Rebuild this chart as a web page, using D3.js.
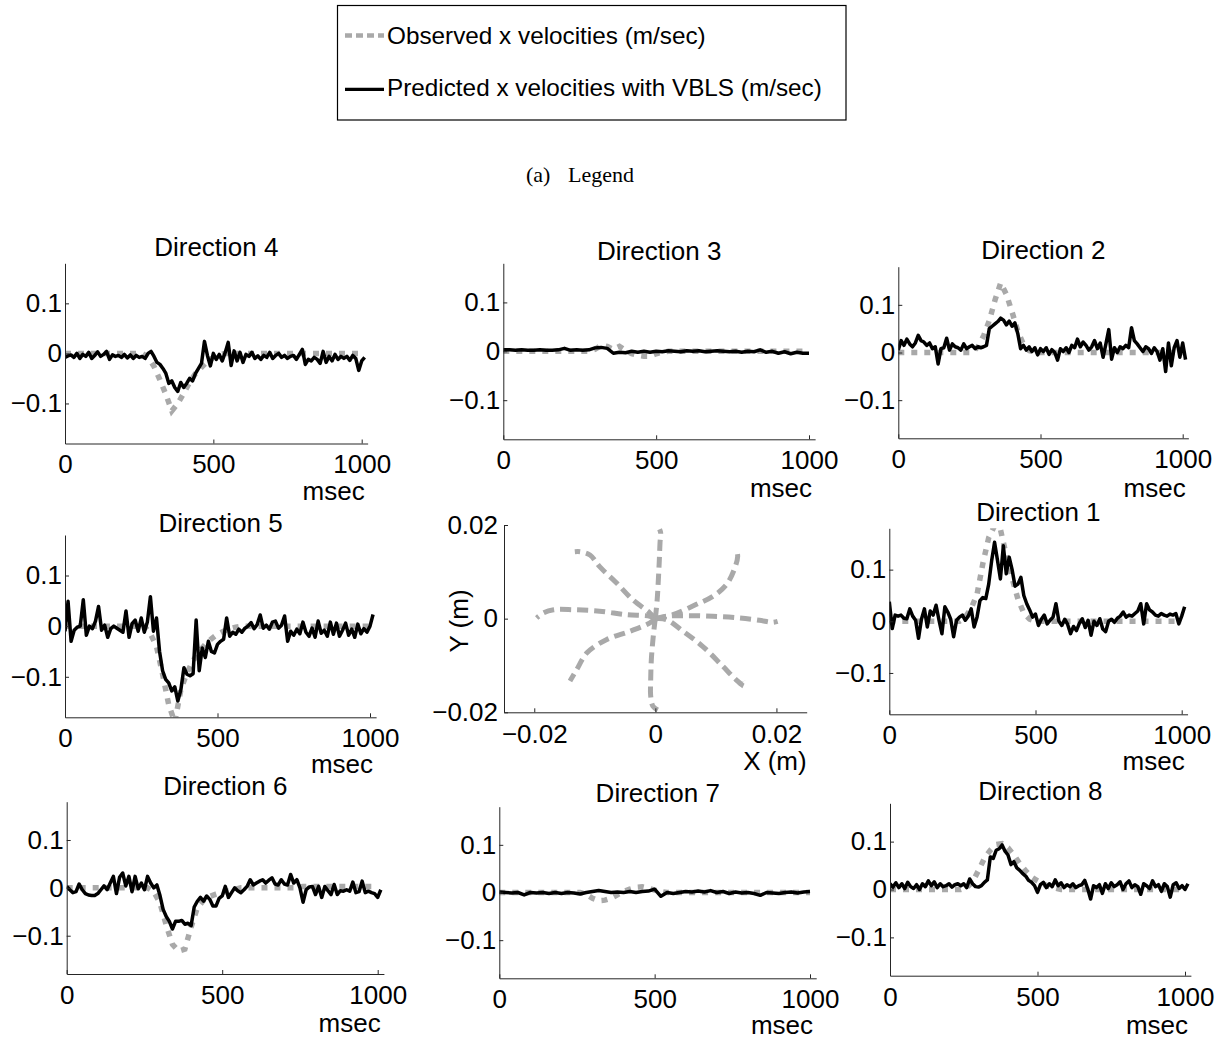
<!DOCTYPE html>
<html><head><meta charset="utf-8">
<script src="https://cdn.jsdelivr.net/npm/d3@7"></script>
<style>
body{margin:0;background:#fff}
svg text{font-family:"Liberation Sans",Arial,Helvetica,sans-serif;fill:#000}
</style>
</head><body>
<svg id="chart" width="1223" height="1041"></svg>
<script>
// ---------------- DATA ----------------
const legendLabels = ["Observed x velocities (m/sec)", "Predicted x velocities with VBLS (m/sec)"];
const captionParts = ["(a)", "Legend"];
const timeTicks = [0, 500, 1000];
const velocityTicks = [-0.1, 0, 0.1];
const positionXTicks = [-0.02, 0, 0.02];
const positionYTicks = [-0.02, 0, 0.02];
const timeLabel = "msec";
const positionXLabel = "X (m)";
const positionYLabel = "Y (m)";

// sample times (ms)
const timeObserved = d3.range(0, 1001, 20);   // 51 samples
const timeFine = d3.range(0, 1011, 10);       // 102 samples
const timeCoarse = d3.range(0, 1001, 20);     // 51 samples

// observed x velocities (m/sec), sampled every 20 ms
const observedDir1 = [0,0,0,0,0,0,0,0,0,0,0,0,0, 0.008,0.025,0.052,0.112,0.162,0.185,0.178,0.128,0.083,0.043,0.016,0.004, 0,0,0,0,0,0,0,0,0,0,0,0,0,0,0,0,0,0,0,0,0,0,0,0,0,0];
const observedDir2 = [0,0,0,0,0,0,0,0,0,0,0,0,0,0, 0.012,0.035,0.067,0.110,0.146,0.122,0.085,0.045,0.017,0.004,0, 0,0,0,0,0,0,0,0,0,0,0,0,0,0,0,0,0,0,0,0,0,0,0,0,0,0];
const observedDir3 = [0,0,0,0,0,0,0,0,0,0,0,0,0,0,0, 0.004,0.012,0.010,0.004,0.010,0.002,-0.005,-0.008,-0.010,-0.010,-0.005,-0.002, 0,0,0,0,0,0,0,0,0,0,0,0,0,0,0,0,0,0,0,0,0,0,0,0];
const observedDir4 = [0,0,0,0,0,0,0,0,0,0,0,0,0,0, -0.008,-0.026,-0.053,-0.082,-0.115,-0.100,-0.080,-0.058,-0.040,-0.028,-0.016,-0.008,-0.003, 0,0,0,0,0,0,0,0,0,0,0,0,0,0,0,0,0,0,0,0,0,0,0,0];
const observedDir5 = [0,0,0,0,0,0,0,0,0,0,0,0,0,0, -0.015,-0.040,-0.095,-0.155,-0.190,-0.125,-0.092,-0.068,-0.050,-0.036,-0.025,-0.016,-0.010,-0.005,-0.002, 0,0,0,0,0,0,0,0,0,0,0,0,0,0,0,0,0,0,0,0,0,0];
const observedDir6 = [0,0,0,0,0,0,0,0,0,0,0,0,0,0, -0.008,-0.032,-0.078,-0.118,-0.132,-0.128,-0.082,-0.042,-0.026,-0.018,-0.013,-0.009,-0.006,-0.003, 0,0,0,0,0,0,0,0,0,0, 0.003,0.003,0.003,0.003,0.003,0.003,0.003,0.003,0.003,0.003,0.003,0.003,0.003];
const observedDir7 = [0,0,0,0,0,0,0,0,0,0,0,0,0,0, -0.004,-0.012,-0.017,-0.016,-0.012,-0.005,0.002,0.007,0.011,0.012,0.009,0.005,0.002, 0,0,0,0,0,0,0,0,0,0,0,0,0,0,0,0,0,0,0,0,0,0,0,0];
const observedDir8 = [0,0,0,0,0,0,0,0,0,0,0,0,0, 0.004,0.016,0.040,0.065,0.082,0.094,0.096,0.087,0.072,0.054,0.039,0.026,0.018,0.011,0.006,0.003, 0,0,0,0,0,0,0,0,0,0,0,0,0,0,0,0,0,0,0,0,0,0];

// predicted x velocities with VBLS (m/sec), every 10 ms (dirs 1,2,4,5,6,8) or 20 ms (dirs 3,7)
const predictedDir1 = [
 0.038,-0.014,0.012,0.010,0.012,0.006,0.005,0.024,0.010,0.002,
 -0.033,0.004,0.024,-0.011,0.020,0.012,0.031,0.002,-0.024,0.028,
 0.018,0.004,-0.030,0.002,0.008,0.012,0.002,0.010,0.024,-0.011,
 0.008,0.040,0.046,0.044,0.072,0.117,0.153,0.118,0.082,0.146,
 0.092,0.124,0.100,0.068,0.072,0.085,0.050,0.034,0.022,0.008,
 0.014,-0.008,0.004,0.012,-0.005,0.002,0.008,0.034,0.000,-0.008,
 0.004,-0.006,-0.024,-0.010,-0.018,-0.004,0.005,-0.012,0.002,-0.027,
 0.000,-0.008,0.005,-0.015,-0.020,0.000,0.004,-0.002,0.006,0.010,
 0.018,0.008,0.012,0.010,0.015,0.020,0.034,-0.005,0.034,0.022,
 0.018,0.012,0.010,0.015,0.012,0.010,0.014,0.012,0.015,-0.005,
 0.010,0.028];
const predictedDir2 = [
 0.005,0.025,0.015,0.028,0.018,0.012,0.020,0.036,0.025,0.022,
 0.015,0.020,0.008,0.012,-0.024,0.008,0.010,0.030,0.005,0.018,
 0.012,0.010,0.005,0.018,0.008,0.012,0.015,0.008,0.012,0.010,
 0.012,0.015,0.050,0.055,0.060,0.065,0.072,0.068,0.058,0.066,
 0.055,0.062,0.040,0.008,0.015,0.005,0.012,0.002,0.010,-0.005,
 0.008,0.002,0.010,-0.004,0.006,0.000,-0.016,0.008,0.002,0.010,
 0.000,0.015,0.010,0.028,0.012,0.022,0.015,0.005,0.012,0.025,
 0.008,0.020,-0.010,0.018,0.048,-0.014,0.010,0.000,0.012,0.008,
 0.015,0.010,0.052,0.025,0.018,0.010,0.002,0.012,0.008,-0.002,
 0.010,0.002,-0.016,0.008,-0.040,0.020,-0.028,0.010,0.025,-0.010,
 0.020,-0.015];
const predictedDir3 = [
 0.003,0.003,0.002,0.003,0.002,0.002,0.003,0.002,0.002,0.003,
 0.006,0.002,0.003,0.002,0.003,0.007,0.008,0.006,-0.004,-0.002,
 -0.003,0.000,-0.002,0.000,-0.002,0.000,-0.001,0.001,0.000,-0.001,
 0.001,0.000,0.001,-0.001,0.000,0.001,0.000,-0.001,0.000,-0.002,
 0.000,-0.001,0.003,-0.002,0.000,-0.004,-0.001,-0.005,-0.002,-0.004,
 -0.004];
const predictedDir4 = [
 -0.008,-0.005,-0.003,-0.008,0.000,-0.010,-0.002,-0.006,0.002,-0.010,
 -0.004,0.003,-0.006,-0.002,0.004,-0.012,-0.003,-0.006,-0.004,-0.008,
 -0.002,-0.009,-0.003,-0.010,-0.004,-0.008,-0.006,-0.010,0.000,0.004,
 -0.006,-0.018,-0.022,-0.030,-0.040,-0.060,-0.055,-0.068,-0.076,-0.058,
 -0.068,-0.060,-0.050,-0.055,-0.040,-0.030,-0.020,0.024,-0.004,-0.025,
 0.000,-0.012,-0.002,-0.015,0.002,0.022,-0.024,0.005,-0.015,0.002,
 -0.018,-0.002,-0.006,0.002,-0.010,-0.005,-0.012,-0.004,-0.008,0.002,
 -0.010,-0.004,0.000,-0.008,-0.004,-0.010,-0.006,-0.004,-0.012,-0.002,
 0.008,-0.022,-0.012,-0.015,-0.008,-0.012,-0.020,0.004,-0.018,-0.006,
 -0.015,-0.002,-0.012,-0.006,-0.010,-0.006,-0.014,-0.004,-0.010,-0.034,
 -0.015,-0.008];
const predictedDir5 = [
 -0.010,0.049,-0.030,-0.008,-0.002,0.000,0.052,-0.018,0.000,-0.005,
 0.010,0.039,-0.008,0.002,-0.022,-0.005,0.000,-0.004,-0.008,-0.012,
 0.030,-0.022,0.005,0.012,-0.010,0.016,-0.012,0.008,0.058,-0.010,
 0.016,-0.050,-0.088,-0.105,-0.112,-0.128,-0.120,-0.148,-0.125,-0.082,
 -0.095,-0.098,-0.094,0.012,-0.088,-0.043,-0.062,-0.030,-0.050,-0.053,
 -0.036,-0.030,-0.026,0.016,-0.020,-0.012,-0.016,-0.006,-0.012,-0.004,
 0.000,0.007,-0.005,0.003,0.022,-0.004,0.002,-0.006,0.008,0.010,
 -0.004,0.002,0.020,-0.030,-0.010,-0.018,-0.006,-0.015,0.008,-0.012,
 -0.020,-0.004,-0.022,0.010,-0.014,-0.008,-0.020,0.008,-0.016,0.006,
 -0.020,-0.008,0.006,-0.018,-0.006,-0.022,0.004,-0.015,-0.005,-0.012,
 0.000,0.023];
const predictedDir6 = [
 0.003,-0.004,-0.010,-0.008,0.008,-0.004,-0.012,-0.015,-0.016,-0.016,
 -0.012,-0.004,0.004,-0.004,0.010,0.024,-0.012,0.022,0.031,0.004,
 0.024,-0.008,0.024,-0.002,0.010,-0.004,0.024,0.010,0.000,0.006,
 -0.016,-0.045,-0.060,-0.070,-0.086,-0.070,-0.070,-0.068,-0.076,-0.074,
 -0.079,-0.040,-0.028,-0.020,-0.028,-0.017,-0.024,-0.038,-0.038,-0.022,
 -0.017,0.003,-0.020,-0.010,0.000,-0.006,-0.010,-0.004,0.003,0.017,
 0.006,0.010,0.014,0.017,0.010,0.016,0.021,0.008,0.006,0.017,
 0.008,0.006,0.028,0.010,0.017,0.000,-0.030,-0.004,0.002,0.003,
 -0.014,0.003,-0.020,0.003,-0.006,-0.014,0.007,-0.014,-0.006,-0.007,
 -0.004,-0.007,0.012,-0.010,-0.008,0.014,-0.010,-0.007,-0.010,-0.012,
 -0.020,-0.004];
const predictedDir7 = [
 0.001,0.000,-0.001,0.000,-0.005,0.000,-0.001,0.000,-0.002,0.000,
 -0.002,0.000,-0.001,-0.003,0.000,0.002,0.004,0.002,0.000,0.001,
 0.000,0.002,0.000,0.002,0.003,0.007,-0.008,0.000,-0.002,0.000,
 0.002,0.001,0.003,0.001,0.004,0.000,0.002,-0.002,0.001,-0.001,
 0.000,-0.002,-0.006,0.000,-0.001,-0.002,0.000,0.001,-0.001,0.001,
 0.002];
const predictedDir8 = [
 0.012,0.005,0.014,0.004,0.012,0.002,0.015,0.006,0.002,0.010,
 0.000,0.012,0.006,0.018,0.008,0.016,0.004,0.012,0.006,0.008,
 0.012,0.005,0.010,0.012,0.008,0.012,0.004,0.022,0.012,0.006,
 0.005,0.008,0.015,0.020,0.068,0.065,0.082,0.085,0.093,0.080,
 0.072,0.052,0.058,0.045,0.040,0.033,0.028,0.019,0.015,0.008,
 -0.006,0.010,0.015,0.004,0.012,0.006,0.020,0.008,0.014,0.004,
 0.010,0.006,0.012,0.004,0.008,0.010,0.019,0.002,-0.020,0.008,
 0.004,0.010,-0.008,0.012,0.002,0.014,0.006,0.010,0.016,0.000,
 0.012,0.018,0.004,0.010,0.006,-0.010,0.012,0.008,0.002,0.018,
 0.006,0.010,-0.004,0.012,0.006,-0.016,0.010,0.014,0.002,0.008,
 0.000,0.012];

// observed hand trajectories [X (m), Y (m)]
const trajectoryDir1 = [[0,0],[0.0018,0.0005],[0.0051,0.00064],[0.0095,0.0005],[0.0139,0.00014],[0.0172,-0.00035],[0.0193,-0.00078],[0.0202,-0.00057]];
const trajectoryDir2 = [[0,0],[0.0029,0.00085],[0.0067,0.0030],[0.0095,0.00475],[0.0117,0.0072],[0.0130,0.0104],[0.0136,0.0133],[0.0134,0.0147]];
const trajectoryDir3 = [[0,0],[0.0003,0.0040],[0.0005,0.0084],[0.00066,0.0126],[0.00077,0.0162],[0.00088,0.0183],[0.0007,0.0191]];
const trajectoryDir4 = [[0,0],[-0.0009,0.0012],[-0.0037,0.0040],[-0.0064,0.0076],[-0.0092,0.0111],[-0.0108,0.0136],[-0.0124,0.0143],[-0.0133,0.0143]];
const trajectoryDir5 = [[0,0],[-0.0009,0.0005],[-0.0048,0.00085],[-0.0092,0.0016],[-0.0135,0.0019],[-0.0168,0.0019],[-0.0185,0.0012],[-0.0196,0.00014]];
const trajectoryDir6 = [[0,0],[-0.0009,-0.0009],[-0.0042,-0.0027],[-0.0081,-0.0045],[-0.0113,-0.0073],[-0.0130,-0.0109],[-0.0141,-0.0133]];
const trajectoryDir7 = [[0,0],[-0.0001,-0.0009],[-0.0004,-0.0045],[-0.00066,-0.0087],[-0.00077,-0.0130],[-0.00077,-0.0165],[-0.0004,-0.0187],[0.0004,-0.0195]];
const trajectoryDir8 = [[0,0],[0.0018,-0.0002],[0.0046,-0.0027],[0.0078,-0.0059],[0.0111,-0.0101],[0.0133,-0.0130],[0.0147,-0.0144],[0.0147,-0.0133]];

// ---------------- LAYOUT / STYLE ----------------
const FONT = '"Liberation Sans", Arial, Helvetica, sans-serif';
const GRAY = "#a9a9a9";
const AXIS = "#262626";
const timeDomain = [0, 1020];
const velocityDomain = [-0.18, 0.18];

const observedByDir = {1:observedDir1,2:observedDir2,3:observedDir3,4:observedDir4,5:observedDir5,6:observedDir6,7:observedDir7,8:observedDir8};
const predictedByDir = {1:predictedDir1,2:predictedDir2,3:predictedDir3,4:predictedDir4,5:predictedDir5,6:predictedDir6,7:predictedDir7,8:predictedDir8};
const predictedTimeByDir = {1:timeFine,2:timeFine,3:timeCoarse,4:timeFine,5:timeFine,6:timeFine,7:timeCoarse,8:timeFine};
const trajectories = [trajectoryDir1,trajectoryDir2,trajectoryDir3,trajectoryDir4,trajectoryDir5,trajectoryDir6,trajectoryDir7,trajectoryDir8];

const panelLayout = [
  {dir:4, left:65,    x1000:361.7,  top:263.3, bottom:443.5, titleDy:7, msecDy:56},
  {dir:3, left:503.3, x1000:809,    top:263.3, bottom:439.3, titleDy:3, msecDy:58},
  {dir:2, left:898.3, x1000:1182.7, top:266.7, bottom:438.3, titleDy:8, msecDy:59},
  {dir:5, left:65,    x1000:370,    top:535,   bottom:717.3, titleDy:3, msecDy:56},
  {dir:1, left:889.3, x1000:1181.7, top:528.3, bottom:714.3, titleDy:7, msecDy:56},
  {dir:6, left:66.7,  x1000:377.7,  top:801.7, bottom:974,   titleDy:7, msecDy:58},
  {dir:7, left:499.3, x1000:810,    top:806.7, bottom:978.3, titleDy:5, msecDy:56},
  {dir:8, left:890,   x1000:1185,   top:803.3, bottom:975.7, titleDy:3, msecDy:58}
];

const fmt = d => d === 0 ? "0" : (d < 0 ? "\u2212" : "") + Math.abs(d);

const svg = d3.select("#chart");
const defs = svg.append("defs");

function styleAxis(sel) {
  sel.attr("font-size", 26).attr("font-family", FONT);
  sel.selectAll(".domain").attr("stroke", AXIS).attr("stroke-width", 1);
  sel.selectAll(".tick line").attr("stroke", AXIS).attr("stroke-width", 1);
  sel.selectAll(".tick text").attr("fill", "#000");
}

// ---------------- LEGEND ----------------
const legend = svg.append("g");
legend.append("rect").attr("x", 337.5).attr("y", 5.5).attr("width", 508.5).attr("height", 114.5)
  .attr("fill", "#fff").attr("stroke", "#000").attr("stroke-width", 1.2);
const legendRows = [
  {label: legendLabels[0], cy: 35.5, base: 43.5, stroke: GRAY, width: 4.5, dash: "7,4"},
  {label: legendLabels[1], cy: 89.3, base: 95.7, stroke: "#000", width: 3.2, dash: null}
];
legendRows.forEach(r => {
  legend.append("line").attr("x1", 345).attr("x2", 384).attr("y1", r.cy).attr("y2", r.cy)
    .attr("stroke", r.stroke).attr("stroke-width", r.width).attr("stroke-dasharray", r.dash);
  legend.append("text").attr("x", 387).attr("y", r.base).attr("font-size", 24.3).text(r.label);
});
const SERIF = '"Liberation Serif", "Times New Roman", serif';
svg.append("text").attr("x", 526).attr("y", 181.5).attr("font-size", 22)
  .style("font-family", SERIF).text(captionParts[0]);
svg.append("text").attr("x", 568).attr("y", 181.5).attr("font-size", 22)
  .style("font-family", SERIF).text(captionParts[1]);

// ---------------- VELOCITY PANELS ----------------
panelLayout.forEach((p, i) => {
  const x = d3.scaleLinear().domain(timeDomain)
    .range([p.left, p.left + (p.x1000 - p.left) * timeDomain[1] / 1000]);
  const y = d3.scaleLinear().domain(velocityDomain).range([p.bottom, p.top]);
  const g = svg.append("g");
  const clipId = "clip" + i;
  defs.append("clipPath").attr("id", clipId).append("rect")
    .attr("x", x.range()[0]).attr("y", p.top)
    .attr("width", x.range()[1] - x.range()[0]).attr("height", p.bottom - p.top);

  const line = d3.line().x(d => x(d[0])).y(d => y(d[1]));
  const plot = g.append("g").attr("clip-path", `url(#${clipId})`);
  plot.append("path").datum(d3.zip(timeObserved, observedByDir[p.dir]))
    .attr("d", line).attr("fill", "none").attr("stroke", GRAY)
    .attr("stroke-width", 5.5).attr("stroke-dasharray", "6,7");
  plot.append("path").datum(d3.zip(predictedTimeByDir[p.dir], predictedByDir[p.dir]))
    .attr("d", line).attr("fill", "none").attr("stroke", "#000")
    .attr("stroke-width", 3.5).attr("stroke-linejoin", "round");

  g.append("g").attr("transform", `translate(0,${p.bottom})`)
    .call(d3.axisBottom(x).tickValues(timeTicks).tickSizeInner(-4).tickSizeOuter(0)
      .tickPadding(11.5).tickFormat(d3.format("d")))
    .call(styleAxis);
  g.append("g").attr("transform", `translate(${p.left},0)`)
    .call(d3.axisLeft(y).tickValues(velocityTicks).tickSizeInner(-4).tickSizeOuter(0)
      .tickPadding(3).tickFormat(fmt))
    .call(styleAxis);

  g.append("text").attr("x", (x.range()[0] + x.range()[1]) / 2).attr("y", p.top - p.titleDy)
    .attr("text-anchor", "middle").attr("font-size", 26).text("Direction " + p.dir);
  g.append("text").attr("x", x(1000) + 3).attr("y", p.bottom + p.msecDy)
    .attr("text-anchor", "end").attr("font-size", 26).text(timeLabel);
});

// ---------------- TRAJECTORY PANEL ----------------
const tx = d3.scaleLinear().domain([-0.025, 0.025]).range([504, 806.7]);
const ty = d3.scaleLinear().domain([-0.02, 0.02]).range([712.3, 525]);
const tg = svg.append("g");
const tline = d3.line().x(d => tx(d[0])).y(d => ty(d[1])).curve(d3.curveCatmullRom);
trajectories.forEach(tr => {
  tg.append("path").datum(tr).attr("d", tline).attr("fill", "none")
    .attr("stroke", GRAY).attr("stroke-width", 5).attr("stroke-dasharray", "11,6");
});
tg.append("g").attr("transform", "translate(0,712.3)")
  .call(d3.axisBottom(tx).tickValues(positionXTicks).tickSizeInner(-4).tickSizeOuter(0)
    .tickPadding(12).tickFormat(fmt))
  .call(styleAxis);
tg.append("g").attr("transform", "translate(504,0)")
  .call(d3.axisLeft(ty).tickValues(positionYTicks).tickSizeInner(-4).tickSizeOuter(0)
    .tickPadding(6).tickFormat(fmt))
  .call(styleAxis);
tg.append("text").attr("x", 806.7).attr("y", 770).attr("text-anchor", "end")
  .attr("font-size", 26).text(positionXLabel);
tg.append("text").attr("transform", "translate(468,621) rotate(-90)")
  .attr("text-anchor", "middle").attr("font-size", 26).text(positionYLabel);
</script>
</body></html>
